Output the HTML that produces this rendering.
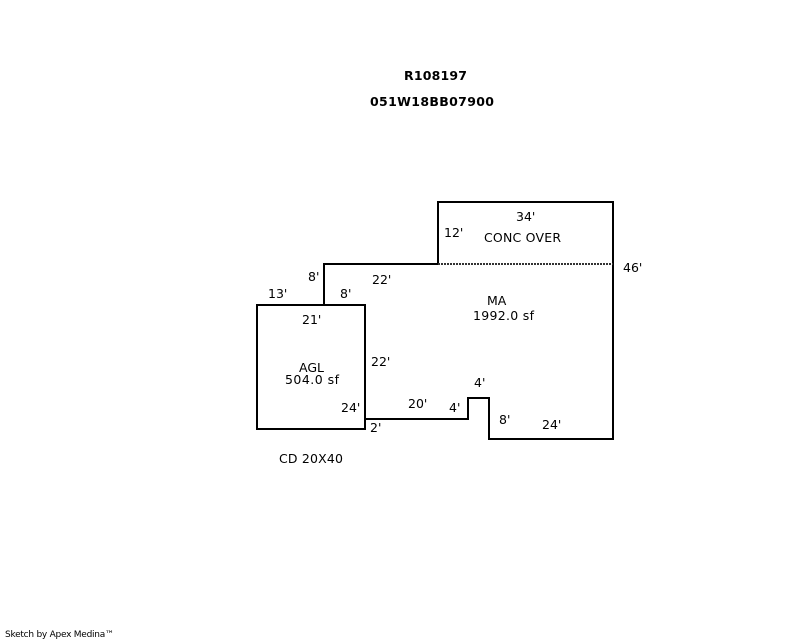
<!DOCTYPE html>
<html><head><meta charset="utf-8"><style>
html,body{margin:0;padding:0;background:#fff;width:800px;height:640px;overflow:hidden}
svg{display:block}
text{font-family:"DejaVu Sans","Liberation Sans",sans-serif;font-size:12.5px;fill:#000}
.b{font-weight:bold;font-size:12.5px}
</style></head><body>
<svg width="800" height="640" viewBox="0 0 800 640" xmlns="http://www.w3.org/2000/svg">
<g fill="none" stroke="#000" stroke-width="2" shape-rendering="crispEdges">
<path d="M324 305V264H438V202H613V439H489V398H468V419H365"/>
<rect x="257" y="305" width="108" height="124"/>
</g>
<line x1="438" y1="264" x2="613" y2="264" stroke="#333" stroke-width="2" stroke-dasharray="2 1" shape-rendering="crispEdges"/>
<text class="b" x="404" y="80" textLength="63" lengthAdjust="spacing">R108197</text>
<text class="b" x="370" y="106" textLength="124" lengthAdjust="spacing">051W18BB07900</text>
<text x="516" y="221">34'</text>
<text x="444" y="237">12'</text>
<text x="484" y="242" textLength="77" lengthAdjust="spacing">CONC OVER</text>
<text x="623" y="272">46'</text>
<text x="308" y="281">8'</text>
<text x="372" y="284">22'</text>
<text x="268" y="298">13'</text>
<text x="340" y="298">8'</text>
<text x="487" y="305">MA</text>
<text x="473" y="320" textLength="61" lengthAdjust="spacing">1992.0 sf</text>
<text x="302" y="324">21'</text>
<text x="371" y="366">22'</text>
<text x="299" y="372">AGL</text>
<text x="285" y="384" textLength="54" lengthAdjust="spacing">504.0 sf</text>
<text x="474" y="387">4'</text>
<text x="408" y="408">20'</text>
<text x="449" y="412">4'</text>
<text x="341" y="412">24'</text>
<text x="499" y="424">8'</text>
<text x="542" y="429">24'</text>
<text x="370" y="432">2'</text>
<text x="279" y="463" textLength="64" lengthAdjust="spacing">CD 20X40</text>
<text x="5" y="637" style="font-size:9px" textLength="109" lengthAdjust="spacing">Sketch by Apex Medina™</text>
</svg>
</body></html>
